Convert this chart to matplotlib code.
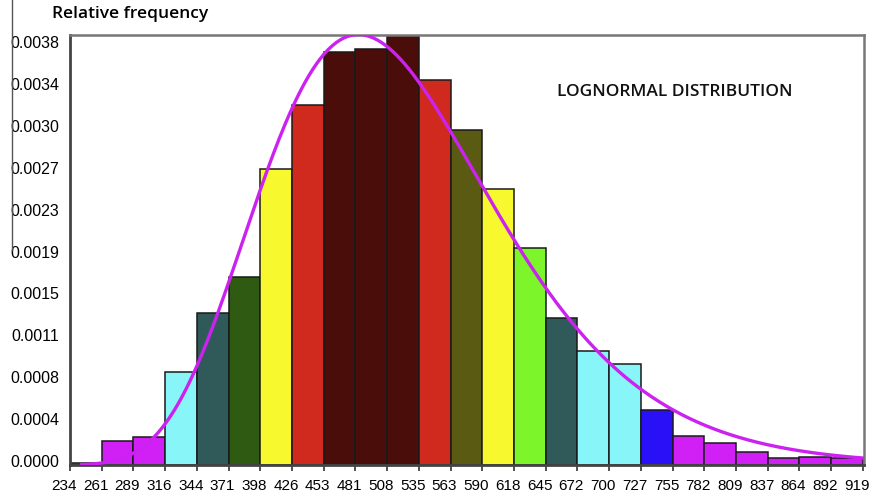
import numpy as np
import matplotlib
matplotlib.use('Agg')
import matplotlib.pyplot as plt
from matplotlib.lines import Line2D

# histogram bins (class limits) and relative frequency densities
bin_edges = [234, 261.4, 288.8, 316.2, 343.6, 371, 398.4, 425.8, 453.2, 480.6,
             508, 535.4, 562.8, 590.2, 617.6, 645, 672.4, 699.8, 727.2, 754.6,
             782, 809.4, 836.8, 864.2, 891.6, 919]
edge_labels = ['234', '261', '289', '316', '344', '371', '398', '426', '453', '481',
               '508', '535', '563', '590', '618', '645', '672', '700', '727', '755',
               '782', '809', '837', '864', '892', '919']
rel_freq = [0.00002, 0.00021, 0.000245, 0.00082, 0.00134, 0.00166, 0.00262, 0.00318,
            0.00365, 0.00368, 0.0038, 0.0034, 0.00296, 0.00244, 0.00192, 0.0013,
            0.00101, 0.00089, 0.00049, 0.00026, 0.000195, 0.000113, 0.00006,
            0.00007, 0.00006]
bar_colors = ['#d020f6', '#d020f6', '#d020f6', '#88f6f8', '#2f5a59', '#2e5a12',
              '#f8f82e', '#d0291d', '#4a0d0a', '#4a0d0a', '#4a0d0a', '#d0291d',
              '#5a5a12', '#f8f82e', '#7cf62a', '#2f5a59', '#88f6f8', '#88f6f8',
              '#2a10f6', '#d020f6', '#d020f6', '#d020f6', '#d020f6', '#d020f6',
              '#d020f6']
ytick_values = [0.0, 0.00038, 0.00076, 0.00114, 0.00152, 0.0019, 0.00228,
                0.00266, 0.00304, 0.00342, 0.0038]

# fitted three-parameter lognormal (threshold, log-mean, log-sd)
ln_loc = 101.0
ln_mu = 6.016
ln_sigma = 0.265
fit_range = (244, 919)

fig = plt.figure(figsize=(8.73, 4.96), dpi=100)
ax = fig.add_axes([70/873, 1-465/496, 794/873, 430/496])

edges = np.array(bin_edges)
ax.bar(edges[:-1], rel_freq, width=np.diff(edges), align='edge',
       color=bar_colors, edgecolor='#1a1a1a', linewidth=1.1, zorder=2)

xs = np.linspace(fit_range[0], fit_range[1], 400)
ys = xs - ln_loc
pdf = np.exp(-(np.log(ys) - ln_mu)**2 / (2*ln_sigma**2)) / (ys*ln_sigma*np.sqrt(2*np.pi))
ax.plot(xs, pdf, color='#cc22f0', lw=2.4, zorder=3)

# tick marks on the bin edges; labels drawn a few pixels to the left of each mark
ax.set_xticks(edges)
ax.set_xticklabels([])
ax.tick_params(axis='x', length=4, width=1.2, color='#333333')
for e, lab in zip(edges, edge_labels):
    ax.annotate(lab, xy=(e, 0), xycoords=('data', 'axes fraction'),
                xytext=(-6, -21), textcoords='offset pixels', ha='center',
                va='center', fontsize=11, family='Liberation Sans',
                annotation_clip=False)

# y labels sit slightly inside the data range
ypos = np.linspace(0.000035, 0.003738, len(ytick_values))
ax.set_yticks(ypos)
ax.set_yticklabels(['%.4f' % v for v in ytick_values], fontsize=11.5,
                   family='Liberation Sans')
ax.tick_params(axis='y', length=0, pad=8)

ax.set_xlim(234, 920)
ax.set_ylim(0, 0.0038)

for side in ['left', 'bottom']:
    ax.spines[side].set_color('#444444')
    ax.spines[side].set_linewidth(2)
for side in ['top', 'right']:
    ax.spines[side].set_color('#777777')
    ax.spines[side].set_linewidth(1.8)

fig.text(52/873, 1-14/496, 'Relative frequency', fontsize=12.5, weight='semibold',
         family='Open Sans', va='center', ha='left')
fig.text(557/873, 1-92/496, 'LOGNORMAL DISTRIBUTION', fontsize=12.5,
         weight='semibold', family='Open Sans', va='center', ha='left',
         color='#111111')

fig.add_artist(Line2D([12/873, 12/873], [1.0, 1-250/496], transform=fig.transFigure,
                      color='#555555', lw=1))

fig.savefig('out.png', dpi=100)
